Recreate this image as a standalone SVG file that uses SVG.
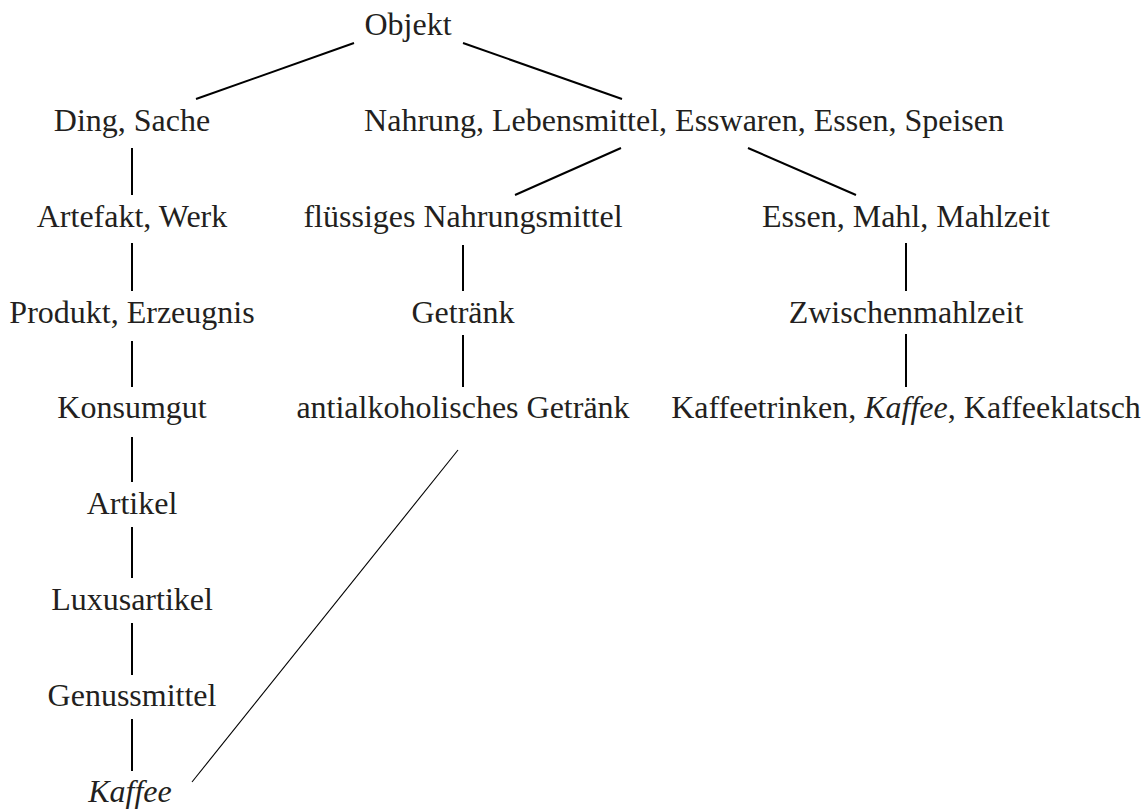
<svg xmlns="http://www.w3.org/2000/svg" width="1143" height="810" viewBox="0 0 1143 810">
<style>
text{font-family:"Liberation Serif","Times New Roman",serif;font-size:32px;fill:#231f20;text-anchor:middle}
.it{font-style:italic}
.e{stroke:#000;stroke-width:2;fill:none}
.thin{stroke:#000;stroke-width:1.1;fill:none}
</style>
<rect width="1143" height="810" fill="#fff"/>
<g id="connectors">
<line class="e" x1="196" y1="99" x2="354" y2="43"/>
<line class="e" x1="463" y1="43" x2="622" y2="99"/>
<line class="e" x1="621" y1="148" x2="515" y2="195"/>
<line class="e" x1="748" y1="148" x2="856" y2="195"/>
<line class="e" x1="132" y1="148" x2="132" y2="195"/>
<line class="e" x1="132" y1="243" x2="132" y2="291"/>
<line class="e" x1="132" y1="341" x2="132" y2="387"/>
<line class="e" x1="132" y1="437" x2="132" y2="482"/>
<line class="e" x1="132" y1="527" x2="132" y2="578"/>
<line class="e" x1="132" y1="623" x2="132" y2="675"/>
<line class="e" x1="132" y1="719" x2="132" y2="771"/>
<line class="e" x1="463" y1="245" x2="463" y2="291"/>
<line class="e" x1="463" y1="335" x2="463" y2="387"/>
<line class="e" x1="906" y1="243" x2="906" y2="291"/>
<line class="e" x1="906" y1="334" x2="906" y2="387"/>
<line class="thin" x1="458" y1="450" x2="192" y2="782"/>
</g>
<g id="objekt"><text x="408" y="35">Objekt</text></g>
<g id="ding"><text x="132" y="131">Ding, Sache</text></g>
<g id="nahrung"><text x="684" y="131">Nahrung, Lebensmittel, Esswaren, Essen, Speisen</text></g>
<g id="artefakt"><text x="132" y="227">Artefakt, Werk</text></g>
<g id="fluessig"><text x="463" y="227">flüssiges Nahrungsmittel</text></g>
<g id="mahlzeit"><text x="906" y="227">Essen, Mahl, Mahlzeit</text></g>
<g id="produkt"><text x="132" y="323">Produkt, Erzeugnis</text></g>
<g id="getraenk"><text x="463" y="323">Getränk</text></g>
<g id="zwischen"><text x="906" y="323">Zwischenmahlzeit</text></g>
<g id="konsumgut"><text x="132" y="418">Konsumgut</text></g>
<g id="antialk"><text x="463" y="418">antialkoholisches Getränk</text></g>
<g id="kaffeetrinken"><text x="906" y="418">Kaffeetrinken, <tspan class="it">Kaffee</tspan>, Kaffeeklatsch</text></g>
<g id="artikel"><text x="132" y="514">Artikel</text></g>
<g id="luxus"><text x="132" y="610">Luxusartikel</text></g>
<g id="genuss"><text x="132" y="706">Genussmittel</text></g>
<g id="kaffee"><text class="it" x="130" y="802">Kaffee</text></g>
</svg>
